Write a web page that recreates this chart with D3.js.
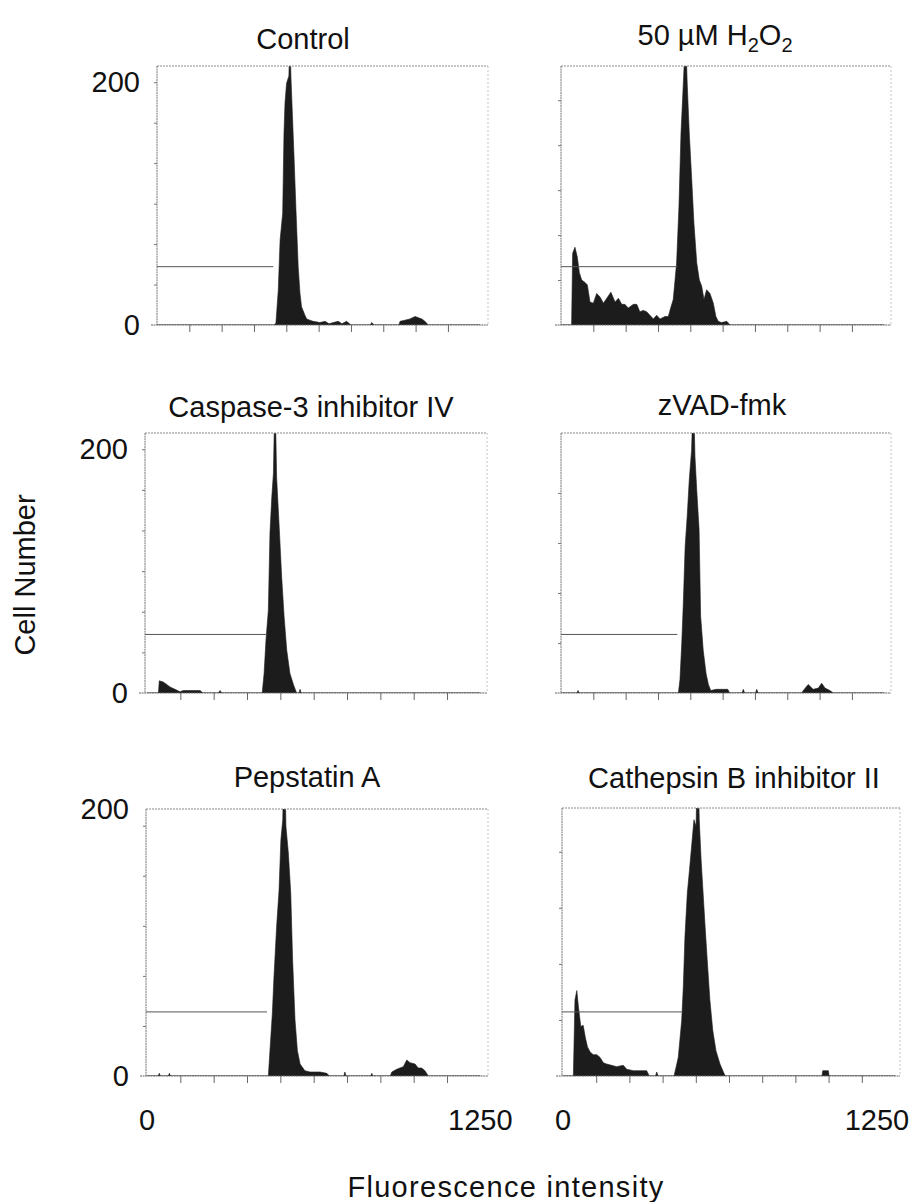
<!DOCTYPE html>
<html>
<head>
<meta charset="utf-8">
<script src="https://cdn.jsdelivr.net/npm/d3@7/dist/d3.min.js"></script>
<style>
  body { margin: 0; background: #fff; }
  text { font-family: "Liberation Sans", Arial, sans-serif; fill: #111; }
</style>
</head>
<body>
<div id="chart"></div>
<script>

// panel titles, "_2" means subscript 2
var titles = ["Control", "50 \u00b5M H_2O_2", "Caspase-3 inhibitor IV",
              "zVAD-fmk", "Pepstatin A", "Cathepsin B inhibitor II"];

// histograms as [fluorescence intensity, cell number]
var control = [[0,0],[455,0],[460,2],[469,29],[476,70],[486,92],[491,158],[495,183],[501,199],[510,205],
  [514,240],[518,204],[524,171],[530,138],[537,97],[546,48],[553,26],[559,15],[572,8],[579,5],[591,4],
  [604,3],[630,2],[650,3],[665,1],[682,2],[701,3],[715,1],[733,3],[750,0],[825,0],[830,2],[840,0],
  [935,0],[940,3],[959,4],[978,5],[998,7],[1011,6],[1024,5],[1036,3],[1049,0],[1250,0]];

var h2o2 = [[0,0],[41,0],[45,59],[54,64],[63,56],[71,43],[80,37],[93,35],[102,33],[112,19],[125,18],
  [138,26],[151,23],[164,18],[177,22],[193,27],[209,19],[222,22],[235,17],[247,17],[260,14],[280,17],
  [293,17],[305,11],[318,12],[331,11],[344,8],[357,5],[370,8],[383,5],[402,7],[415,7],[424,14],[434,21],
  [447,51],[456,97],[464,158],[473,199],[482,240],[488,199],[496,158],[505,122],[514,84],[525,51],
  [535,37],[544,32],[553,21],[563,29],[576,26],[589,18],[599,7],[608,3],[621,2],[641,3],[654,0],[1250,0]];

var caspase = [[0,0],[43,0],[46,10],[61,9],[74,7],[86,5],[105,3],[124,1],[136,2],[174,2],[199,2],[210,0],
  [268,0],[274,2],[280,0],[432,0],[439,16],[446,43],[455,68],[461,131],[468,161],[474,180],[480,250],
  [486,177],[495,139],[505,95],[514,63],[524,35],[536,16],[549,7],[561,0],[570,0],[574,3],[578,0],[1250,0]];

var zvad = [[0,0],[62,0],[66,2],[70,0],[454,0],[460,11],[467,41],[473,74],[480,120],[488,145],[496,175],
  [505,199],[512,250],[518,194],[525,166],[534,134],[540,63],[550,35],[561,16],[570,7],[579,2],[600,3],
  [645,3],[652,0],[700,0],[705,3],[710,0],[752,0],[757,3],[762,0],[930,0],[937,2],[956,7],[975,3],
  [995,4],[1008,8],[1021,4],[1040,2],[1053,0],[1250,0]];

var pepstatin = [[0,0],[42,0],[46,2],[50,0],[80,0],[84,2],[88,0],[455,0],[461,19],[470,47],[476,74],
  [486,112],[495,139],[502,177],[509,192],[515,250],[521,187],[530,167],[539,137],[546,87],[555,42],
  [564,19],[574,9],[592,4],[611,3],[649,3],[674,2],[684,0],[738,0],[742,3],[746,0],[839,0],[843,2],
  [847,0],[912,0],[918,3],[936,5],[961,7],[974,12],[986,10],[1005,9],[1017,6],[1030,6],[1042,4],
  [1055,0],[1250,0]];

var cathepsin = [[0,0],[39,0],[45,57],[52,64],[58,52],[67,37],[76,38],[84,29],[92,22],[102,18],[114,16],
  [127,16],[139,14],[152,10],[164,9],[183,8],[202,7],[227,8],[240,5],[265,4],[290,4],[315,4],[325,0],
  [348,0],[353,3],[358,0],[418,0],[425,6],[434,14],[447,42],[453,67],[459,104],[468,137],[476,154],
  [485,174],[493,192],[501,187],[507,250],[513,192],[520,162],[526,142],[535,112],[543,87],[553,57],
  [564,34],[576,19],[591,9],[606,2],[611,0],[975,0],[978,4],[999,4],[1002,0],[1250,0]];

var histograms = [control, h2o2, caspase, zvad, pepstatin, cathepsin];

var gateEnd = 450, gateLevel = 48;
var xTickValues = [125, 250, 375, 500, 625, 750, 875, 1000, 1125];
var xLabels = [0, 1250];
var yLabels = [0, 200];
var yTickStep = [33.3, 37, 33.3, 41, 37.5, 42];

// where each scanned panel sits on the page
var panels = [
  {x0:157, left:157, right:488, top:66,  bottom:325,  ppu:0.2586, ppc:1.215, tx:303, ty:49},
  {x0:561, left:561, right:891, top:66,  bottom:325,  ppu:0.2586, ppc:1.215, tx:715, ty:45},
  {x0:147, left:145, right:487, top:433, bottom:693,  ppu:0.2667, ppc:1.22,  tx:311, ty:417},
  {x0:561, left:561, right:891, top:433, bottom:693,  ppu:0.2586, ppc:1.22,  tx:722, ty:415},
  {x0:147, left:146, right:488, top:809, bottom:1076, ppu:0.2667, ppc:1.335, tx:307, ty:787},
  {x0:563, left:562, right:900, top:808, bottom:1076, ppu:0.2656, ppc:1.335, tx:734, ty:788}
];

var W = 910, H = 1202;
var svg = d3.select("#chart").append("svg")
    .attr("width", W)
    .attr("height", H);

panels.forEach(function(p, i) {
  var x = d3.scaleLinear().domain([0, 1250]).range([p.x0, p.x0 + 1250 * p.ppu]);
  var y = d3.scaleLinear().domain([0, 200]).range([p.bottom, p.bottom - 200 * p.ppc]);
  var g = svg.append("g");

  g.append("clipPath").attr("id", "clip" + i)
    .append("rect")
      .attr("x", p.left).attr("y", p.top)
      .attr("width", p.right - p.left).attr("height", p.bottom - p.top);

  // histogram
  var area = d3.area()
      .x(function(d) { return x(d[0]); })
      .y0(y(0))
      .y1(function(d) { return y(d[1]); });
  g.append("path")
      .datum(histograms[i])
      .attr("clip-path", "url(#clip" + i + ")")
      .attr("fill", "#1c1c1c")
      .attr("stroke", "#1c1c1c")
      .attr("stroke-width", 0.6)
      .attr("d", area);

  // frame: faint top/right, darker axes
  g.append("line")
      .attr("x1", p.left).attr("x2", p.right).attr("y1", p.top).attr("y2", p.top)
      .attr("stroke", "#8a8a8a").attr("stroke-dasharray", "2,1");
  g.append("line")
      .attr("x1", p.right).attr("x2", p.right).attr("y1", p.top).attr("y2", p.bottom)
      .attr("stroke", "#c4c4c4").attr("stroke-dasharray", "2,2");
  g.append("line")
      .attr("x1", p.left).attr("x2", p.left).attr("y1", p.top).attr("y2", p.bottom)
      .attr("stroke", "#777").attr("stroke-dasharray", "2,0.6");
  g.append("line")
      .attr("x1", p.left - 6).attr("x2", p.right).attr("y1", p.bottom).attr("y2", p.bottom)
      .attr("stroke", "#666").attr("stroke-dasharray", "2,0.6");

  // gate marker
  g.append("line")
      .attr("x1", p.left).attr("x2", x(gateEnd))
      .attr("y1", y(gateLevel)).attr("y2", y(gateLevel))
      .attr("stroke", "#555").attr("stroke-width", 1);

  // ticks
  var xAxis = d3.axisBottom(x).tickValues(xTickValues).tickSize(7).tickFormat("");
  g.append("g")
      .attr("transform", "translate(0," + p.bottom + ")")
      .call(xAxis)
      .call(function(a) {
        a.select(".domain").remove();
        a.selectAll("line").attr("stroke", "#666");
      });

  var yAxis = d3.axisLeft(y).tickValues(d3.range(yTickStep[i], 201, yTickStep[i]))
      .tickSize(3).tickFormat("");
  g.append("g")
      .attr("transform", "translate(" + p.left + ",0)")
      .call(yAxis)
      .call(function(a) {
        a.select(".domain").remove();
        a.selectAll("line").attr("stroke", "#777");
      });

  // title
  var t = g.append("text")
      .attr("x", p.tx).attr("y", p.ty)
      .attr("text-anchor", "middle")
      .style("font-size", "29px");
  var shift = 0;
  titles[i].split(/(_\d)/).forEach(function(part) {
    if (!part) return;
    if (part[0] === "_") {
      t.append("tspan").attr("dy", 7).style("font-size", "20px").text(part.slice(1));
      shift = -7;
    } else {
      t.append("tspan").attr("dy", shift).text(part);
      shift = 0;
    }
  });

  // y labels on the left column
  if (i % 2 === 0) {
    g.selectAll(".ylab").data(yLabels).enter().append("text")
        .attr("x", p.left - 17)
        .attr("y", function(d) { return y(d); })
        .attr("dy", "0.36em")
        .attr("text-anchor", "end")
        .style("font-size", "29px")
        .text(function(d) { return d; });
  }

  // x labels on the bottom row
  if (i >= 4) {
    g.selectAll(".xlab").data(xLabels).enter().append("text")
        .attr("x", function(d) { return Math.min(x(d), W - 33); })
        .attr("y", 1130)
        .attr("text-anchor", "middle")
        .style("font-size", "29px")
        .text(function(d) { return d; });
  }
});

svg.append("text")
    .attr("transform", "translate(35,575) rotate(-90)")
    .attr("text-anchor", "middle")
    .style("font-size", "29px")
    .text("Cell Number");

svg.append("text")
    .attr("x", 506).attr("y", 1197)
    .attr("text-anchor", "middle")
    .style("font-size", "29px")
    .style("letter-spacing", "1.3px")
    .text("Fluorescence intensity");

</script>
</body>
</html>
